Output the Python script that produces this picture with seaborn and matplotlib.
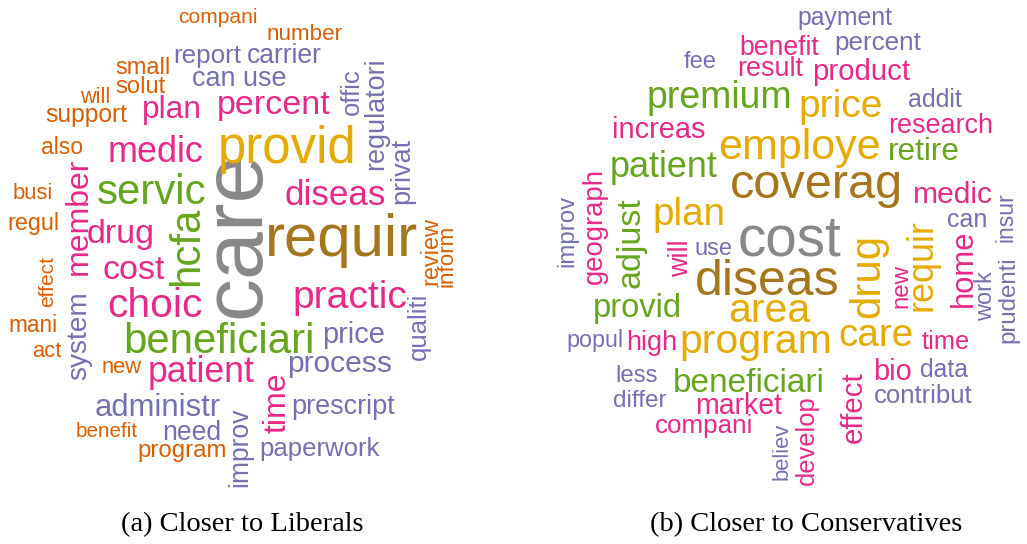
import numpy as np
import pandas as pd
import matplotlib.pyplot as plt
import seaborn as sns

sns.set_theme(style="white")

# Word clouds: words, weights (text size) and colour group per panel
lib_words = ["compani", "number", "report", "carrier", "can use", "small", "solut", "will",
             "support", "plan", "percent", "medic", "also", "servic", "busi", "regul", "drug",
             "member", "cost", "hcfa", "care", "provid", "offic", "regulatori", "privat",
             "diseas", "requir", "review", "inform", "practic", "qualiti", "system", "effect",
             "mani", "act", "choic", "beneficiari", "new", "patient", "price", "process", "time",
             "administr", "prescript", "benefit", "need", "program", "improv", "paperwork"]
lib_weight = [21, 22.4, 26, 26.5, 27, 23.6, 23.7, 21.6, 24.6, 31.7, 34, 36, 23, 42, 22, 23.4, 34,
              32, 34, 42, 86, 51, 25.6, 27, 27, 35, 60, 23.5, 22.4, 39, 25.7, 28, 21,
              22.6, 22, 40.7, 42, 22, 35.6, 29, 30, 32, 31, 27, 20.6, 26.5, 24, 26.5, 25.7]
lib_group = ["O", "O", "P", "P", "P", "O", "O", "O", "O", "K", "K", "K", "O", "G", "O", "O", "K",
             "K", "K", "G", "A", "Y", "P", "P", "P", "K", "B", "O", "O", "K", "P", "P", "O",
             "O", "O", "K", "G", "O", "K", "P", "P", "K", "P", "P", "O", "P", "O", "P", "P"]

con_words = ["payment", "percent", "benefit", "fee", "result", "product", "premium", "price",
             "addit", "increas", "research", "employe", "retire", "patient", "coverag", "medic",
             "plan", "cost", "can", "insur", "improv", "geograph", "adjust", "will", "use",
             "diseas", "drug", "requir", "home", "new", "work", "prudenti", "provid", "area",
             "popul", "high", "program", "care", "time", "less", "beneficiari", "bio", "data",
             "differ", "market", "contribut", "effect", "develop", "believ", "compani"]
con_weight = [24.8, 26, 26.6, 23.7, 27, 29.4, 37.5, 39, 25, 29, 27, 43, 31.6, 36, 48.6, 30,
              38.6, 56.7, 25, 23, 24, 27.5, 34, 27, 23.6, 50, 42, 36, 31, 24, 23.5, 24,
              32.7, 41, 23.3, 27, 41, 38.6, 25.4, 24, 33.4, 29, 24.7, 24.3, 28.5, 25.8, 29.5,
              25.5, 22, 26]
con_group = ["P", "P", "K", "P", "K", "K", "G", "Y", "P", "K", "K", "Y", "G", "G", "B", "K",
             "Y", "A", "P", "P", "P", "K", "G", "K", "P", "B", "Y", "Y", "K", "K", "P", "P",
             "G", "Y", "P", "K", "Y", "Y", "K", "P", "G", "K", "P", "P", "K", "P", "K", "K",
             "P", "K"]

captions = ["(a) Closer to Liberals", "(b) Closer to Conservatives"]

# Layout: (x, y, vertical) in pixels; horizontal -> left/baseline, vertical -> baseline/bottom
lib_layout = [(178, 23, 0), (267, 40, 0), (173, 63, 0), (247, 63, 0), (192, 86, 0), (115, 74, 0),
              (115, 93, 0), (80, 103, 0), (45, 122, 0), (142, 118, 0), (217, 114, 0),
              (108, 162, 0), (41, 154, 0), (97, 204, 0), (13, 199, 0), (7, 230, 0), (87, 243, 0),
              (87, 275, 1), (103, 279, 0), (198, 286, 1), (259, 318, 1), (218, 163, 0),
              (359, 115, 1), (383, 170, 1), (409, 204, 1), (285, 205, 0), (265, 256, 0),
              (437, 285, 1), (453, 287, 1), (292, 308, 0), (426, 360, 1), (86, 380, 1),
              (53, 307, 1), (8, 332, 0), (32, 357, 0), (107, 317, 0), (123, 353, 0),
              (102, 373, 0), (148, 382, 0), (322, 343, 0), (287, 372, 0), (285, 433, 1),
              (95, 416, 0), (291, 414, 0), (76, 437, 0), (162, 440, 0), (137, 457, 0),
              (247, 487, 1), (259, 456, 0)]
con_layout = [(797, 25, 0), (834, 50, 0), (739, 55, 0), (684, 68, 0), (737, 76, 0), (812, 80, 0),
              (647, 108, 0), (798, 117, 0), (908, 107, 0), (612, 138, 0), (888, 133, 0),
              (718, 159, 0), (888, 160, 0), (610, 177, 0), (730, 198, 0), (913, 203, 0),
              (652, 225, 0), (738, 255, 0), (947, 227, 0), (1013, 242, 1), (573, 267, 1),
              (602, 284, 1), (639, 288, 1), (688, 277, 1), (695, 255, 0), (695, 295, 0),
              (879, 318, 1), (931, 311, 1), (972, 307, 1), (907, 308, 1), (992, 321, 1),
              (1014, 343, 1), (593, 317, 0), (728, 322, 0), (566, 347, 0), (626, 350, 0),
              (679, 353, 0), (838, 346, 0), (922, 349, 0), (615, 382, 0), (673, 392, 0),
              (873, 380, 0), (920, 377, 0), (613, 407, 0), (695, 414, 0), (874, 403, 0),
              (862, 443, 1), (814, 485, 1), (788, 480, 1), (655, 433, 0)]

dark2 = sns.color_palette("Dark2", 8)
colors = {"O": dark2[1], "P": dark2[2], "K": dark2[3], "G": dark2[4],
          "Y": dark2[5], "B": dark2[6], "A": "#888888"}

fig = plt.figure(figsize=(10.27, 5.44), dpi=100)
ax = fig.add_axes([0, 0, 1, 1])
ax.set_xlim(0, 1027)
ax.set_ylim(544, 0)
ax.axis("off")

px_to_pt = 72 / 100


def draw_cloud(words, weights, groups, layout):
    df = pd.DataFrame({"word": words, "weight": weights, "group": groups})
    df[["x", "y", "vert"]] = np.array(layout)
    for _, r in df.iterrows():
        ax.text(r["x"], r["y"], r["word"], fontsize=r["weight"] * px_to_pt,
                color=colors[r["group"]], family="Liberation Sans",
                rotation=90 if r["vert"] else 0, rotation_mode="anchor",
                ha="left", va="baseline")


draw_cloud(lib_words, lib_weight, lib_group, lib_layout)
draw_cloud(con_words, con_weight, con_group, con_layout)

for cx, cap in zip([242, 806], captions):
    ax.text(cx, 531, cap, fontsize=20.5, family="Liberation Serif",
            ha="center", va="baseline", color="black")

fig.savefig("out.png", dpi=100)
